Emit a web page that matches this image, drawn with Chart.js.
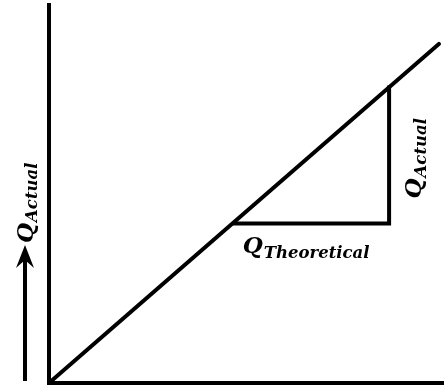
<!DOCTYPE html>
<html>
<head>
<meta charset="utf-8">
<script src="https://cdn.jsdelivr.net/npm/chart.js@4"></script>
<style>
  html, body { margin: 0; padding: 0; background: #fff; }
  #wrap { width: 444px; height: 385px; position: relative; }
</style>
</head>
<body>
<div id="wrap"><canvas id="c"></canvas></div>
<script>
// Main relation line (Q_Actual vs Q_Theoretical), in axis units
const lineX = [0, 9.87];
const lineY = [0, 8.97];
// Slope triangle legs
const legX = [4.7, 8.61, 8.61];
const legY = [4.22, 4.22, 7.82];
// Label texts
const mainSymbol = 'Q';
const yAxisSub = 'Actual';
const runSub = 'Theoretical';
const riseSub = 'Actual';

const toPts = (xs, ys) => xs.map((x, i) => ({ x: x, y: ys[i] }));

const QFONT = 'bold italic 23px "DejaVu Serif"';
const SFONT = 'bold italic 16.5px "DejaVu Serif"';

function drawLabel(ctx, x, y, angle, main, sub, subDrop) {
  ctx.save();
  ctx.translate(x, y);
  ctx.rotate(angle);
  ctx.fillStyle = '#000';
  ctx.textBaseline = 'alphabetic';
  ctx.textAlign = 'left';
  ctx.font = QFONT;
  ctx.fillText(main, 0, 0);
  const w = ctx.measureText(main).width;
  ctx.font = SFONT;
  ctx.fillText(sub, w + 1, subDrop);
  ctx.restore();
}

const labelsPlugin = {
  id: 'labels',
  afterDraw(chart) {
    const ctx = chart.ctx;
    const xs = chart.scales.x, ys = chart.scales.y;
    const area = chart.chartArea;
    // run label under horizontal leg
    const runX = xs.getPixelForValue(legX[0]) + 8;
    const runY = ys.getPixelForValue(legY[0]) + 30;
    drawLabel(ctx, runX, runY, 0, mainSymbol, runSub, 5);
    // rise label right of vertical leg
    const riseX = xs.getPixelForValue(legX[1]) + 32;
    const riseY = ys.getPixelForValue(legY[1]) - 25;
    drawLabel(ctx, riseX, riseY, -Math.PI / 2, mainSymbol, riseSub, 5);
    // y axis label
    const axX = area.left - 16;
    drawLabel(ctx, axX, 243, -Math.PI / 2, mainSymbol, yAxisSub, 4);
    // arrow
    ctx.save();
    ctx.strokeStyle = '#000';
    ctx.fillStyle = '#000';
    ctx.lineWidth = 4;
    const ax = 25;
    ctx.beginPath();
    ctx.moveTo(ax, 381);
    ctx.lineTo(ax, 255);
    ctx.stroke();
    ctx.beginPath();
    ctx.moveTo(ax, 245);
    ctx.lineTo(ax - 9, 268);
    ctx.lineTo(ax, 260);
    ctx.lineTo(ax + 9, 268);
    ctx.closePath();
    ctx.fill();
    ctx.restore();
  }
};

new Chart(document.getElementById('c'), {
  type: 'scatter',
  data: {
    datasets: [
      { data: toPts(lineX, lineY), showLine: true, borderColor: '#000', borderWidth: 4, pointRadius: 0, clip: false, borderCapStyle: 'round' },
      { data: toPts(legX, legY), showLine: true, borderColor: '#000', borderWidth: 4, pointRadius: 0, clip: false, borderCapStyle: 'square', borderJoinStyle: 'miter' }
    ]
  },
  options: {
    responsive: true,
    maintainAspectRatio: false,
    animation: false,
    layout: { padding: { left: 49, top: 5, right: 0, bottom: 2 } },
    plugins: { legend: { display: false }, tooltip: { enabled: false } },
    scales: {
      x: { min: 0, max: 10, ticks: { display: false }, grid: { display: false, drawTicks: false }, border: { display: true, color: '#000', width: 4 } },
      y: { min: 0, max: 10, ticks: { display: false }, grid: { display: false, drawTicks: false }, border: { display: true, color: '#000', width: 4 } }
    }
  },
  plugins: [labelsPlugin]
});
</script>
</body>
</html>
